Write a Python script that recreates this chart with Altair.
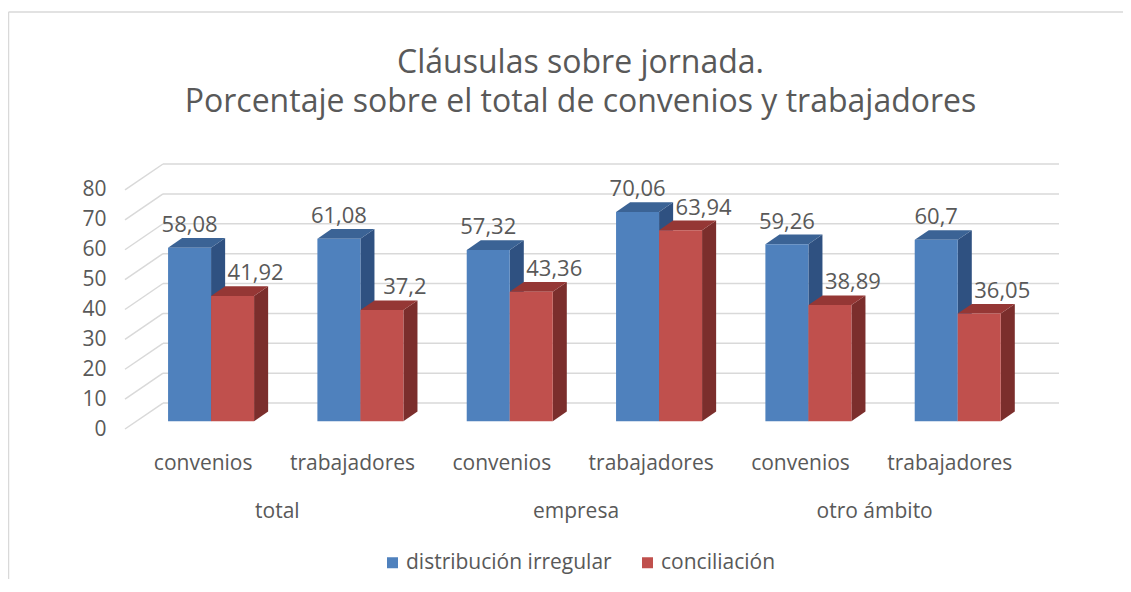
import json
import altair as alt
import pandas as pd

# ---------------- data ----------------
groups = ["total", "empresa", "otro ámbito"]
subcats = ["convenios", "trabajadores", "convenios", "trabajadores", "convenios", "trabajadores"]
series_names = ["distribución irregular", "conciliación"]
dist_irregular = [58.08, 61.08, 57.32, 70.06, 59.26, 60.7]
conciliacion = [41.92, 37.2, 43.36, 63.94, 38.89, 36.05]
y_ticks = [0, 10, 20, 30, 40, 50, 60, 70, 80]

title_lines = ["Cláusulas sobre jornada.",
               "Porcentaje sobre el total de convenios y trabajadores"]

# ---------------- style ----------------
front_colors = ["#4F81BD", "#C0504D"]
top_colors = ["#3B6395", "#953735"]
side_colors = ["#2F5181", "#7B2E2C"]
TEXT = "#595959"
GRID = "#D9D9D9"
FONT = "Open Sans"

# 3D oblique geometry (category-slot units on x, value units on y)
N = len(subcats)
DX = 0.2545   # floor depth along x
DY = 8.7      # floor depth along y
F0 = 0.30     # depth position of bar fronts
BD = 0.37     # bar depth
BW = 0.288    # bar width
LBL_SHIFT = [0.0, 0.154]


def fmt(v):
    s = f"{v:.2f}".rstrip("0").rstrip(".")
    return s.replace(".", ",")


fronts, tops, sides, labels = [], [], [], []
for s, vals in enumerate([dist_irregular, conciliacion]):
    for i, v in enumerate(vals):
        bid = f"{s}-{i}"
        x = i + 0.5 - BW + s * BW + F0 * DX
        yb = F0 * DY
        fronts.append(dict(series=series_names[s], x=x, x2=x + BW, y=yb, y2=v + yb))
        tops.append(dict(bid=bid, col=top_colors[s], yy=v + yb, xa=x, xb=x + BW))
        tops.append(dict(bid=bid, col=top_colors[s], yy=v + yb + BD * DY,
                         xa=x + BD * DX, xb=x + BW + BD * DX))
        sides.append(dict(bid=bid, col=side_colors[s], xx=x + BW, ya=yb, yb=v + yb))
        sides.append(dict(bid=bid, col=side_colors[s], xx=x + BW + BD * DX,
                          ya=yb + BD * DY, yb=v + yb + BD * DY))
        labels.append(dict(lx=x + BW / 2 + LBL_SHIFT[s], ly=v + yb + BD * DY, txt=fmt(v)))

fronts_df = pd.DataFrame(fronts)
tops_df = pd.DataFrame(tops)
sides_df = pd.DataFrame(sides)
labels_df = pd.DataFrame(labels)
grid_back = pd.DataFrame({"gy": [t + DY for t in y_ticks], "gx": DX, "gx2": N + DX})
grid_diag = pd.DataFrame({"dx0": 0.0, "dy0": y_ticks, "dx1": DX,
                          "dy1": [t + DY for t in y_ticks]})
groups_df = pd.DataFrame({"group": groups, "gx": [1.0, 3.0, 5.0]})

W, H = 934, 265

xscale = alt.Scale(domain=[0, N + DX], nice=False, zero=False)
yscale = alt.Scale(domain=[0, 80 + DY], nice=False, zero=True)

xaxis = alt.Axis(values=[i + 0.5 for i in range(N)],
                 labelExpr=f"{json.dumps(subcats, ensure_ascii=False)}[floor(datum.value)]",
                 grid=False, domain=False, ticks=False, tickSize=0, labelPadding=23,
                 labelOffset=3, labelFlush=False, labelOverlap=False,
                 labelFont=FONT, labelFontSize=21, labelColor=TEXT, title=None)
yaxis = alt.Axis(values=y_ticks, grid=False, domain=False, ticks=False, tickSize=0,
                 labelPadding=19, labelFont=FONT, labelFontSize=21, labelColor=TEXT,
                 title=None)

frame_df = pd.DataFrame({"k": [0]})
frame_left = alt.Chart(frame_df).mark_rule(color=GRID, strokeWidth=1.5).encode(
    x=alt.value(-116.5), y=alt.value(-152), y2=alt.value(H + 150))
frame_top = alt.Chart(frame_df).mark_rule(color=GRID, strokeWidth=1.5).encode(
    x=alt.value(-116.5), x2=alt.value(W + 64), y=alt.value(-152))

back = alt.Chart(grid_back).mark_rule(color=GRID, strokeWidth=1.5).encode(
    x=alt.X("gx:Q", scale=xscale, axis=xaxis),
    x2="gx2:Q",
    y=alt.Y("gy:Q", scale=yscale, axis=yaxis))

diag = alt.Chart(grid_diag).mark_rule(color=GRID, strokeWidth=1.5).encode(
    x=alt.X("dx0:Q", scale=xscale, axis=xaxis),
    x2="dx1:Q",
    y=alt.Y("dy0:Q", scale=yscale, axis=yaxis),
    y2="dy1:Q")

side_layer = alt.Chart(sides_df).mark_area(orient="vertical").encode(
    x=alt.X("xx:Q", scale=xscale, axis=xaxis),
    y=alt.Y("ya:Q", scale=yscale, axis=yaxis, stack=None),
    y2="yb:Q",
    detail="bid:N",
    color=alt.Color("col:N", scale=None))

top_layer = alt.Chart(tops_df).mark_area(orient="horizontal").encode(
    y=alt.Y("yy:Q", scale=yscale, axis=yaxis),
    x=alt.X("xa:Q", scale=xscale, axis=xaxis, stack=None),
    x2="xb:Q",
    detail="bid:N",
    color=alt.Color("col:N", scale=None))

front_layer = alt.Chart(fronts_df).mark_rect().encode(
    x=alt.X("x:Q", scale=xscale, axis=xaxis),
    x2="x2:Q",
    y=alt.Y("y:Q", scale=yscale, axis=yaxis),
    y2="y2:Q",
    color=alt.Color("series:N",
                    scale=alt.Scale(domain=series_names, range=front_colors),
                    sort=series_names,
                    legend=alt.Legend(orient="none", legendX=257, legendY=388,
                                      direction="horizontal", title=None,
                                      symbolType="square", symbolSize=121,
                                      symbolStrokeWidth=0, labelFont=FONT,
                                      labelFontSize=21, labelColor=TEXT,
                                      labelLimit=0, labelOffset=3, columnPadding=25)))

label_layer = alt.Chart(labels_df).mark_text(
    font=FONT, fontSize=22, color=TEXT, baseline="alphabetic", align="center", dy=-6
).encode(
    x=alt.X("lx:Q", scale=xscale, axis=xaxis),
    y=alt.Y("ly:Q", scale=yscale, axis=yaxis),
    text="txt:N")

group_layer = alt.Chart(groups_df).mark_text(
    font=FONT, fontSize=21, color=TEXT, baseline="alphabetic", align="center", dx=3
).encode(
    x=alt.X("gx:Q", scale=xscale, axis=xaxis),
    y=alt.value(354),
    text="group:N")

chart = alt.layer(
    frame_left, frame_top, back, diag, side_layer, top_layer, front_layer,
    label_layer, group_layer
).properties(
    width=W, height=H,
    autosize=alt.AutoSizeParams(type="none"),
    padding={"left": 117, "top": 156, "right": 64, "bottom": 150},
    title=alt.TitleParams(text=title_lines, font=FONT, fontSize=32, fontWeight="normal",
                          color=TEXT, lineHeight=39, offset=-108, anchor="middle",
                          frame="group", dx=-11.5),
    background="white",
).configure_view(stroke=None)

chart.save("out.html", embed_options={"renderer": "svg", "actions": False})
